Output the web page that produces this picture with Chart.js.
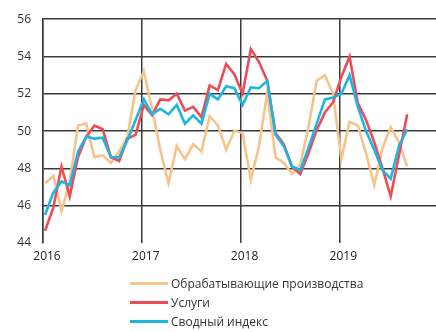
<!DOCTYPE html>
<html lang="ru">
<head>
<meta charset="utf-8">
<title>PMI</title>
<script src="https://cdn.jsdelivr.net/npm/chart.js@4.4.1/dist/chart.umd.min.js"></script>
<style>
    html, body { margin: 0; padding: 0; background: #fff; }
    #wrap { position: relative; width: 436px; height: 332px; }
    #pmiChart { position: absolute; left: 0; top: 0; }
    #legend {
        position: absolute; left: 130px; top: 274px;
        font-family: 'Open Sans', sans-serif; font-size: 12px; color: #333;
    }
    #legend div { height: 19px; line-height: 19px; white-space: nowrap; }
    #legend span {
        display: inline-block; width: 38px; height: 3px; margin-right: 3px;
        vertical-align: middle; position: relative; top: -1px;
    }
</style>
</head>
<body>
<div id="wrap">
    <canvas id="pmiChart" width="436" height="332"></canvas>
    <div id="legend"></div>
</div>
<script>
'use strict'

// monthly values, Jan 2016 - Sep 2019
var years = ['2016', '2017', '2018', '2019']

var manufacturing = [
    47.2, 47.6, 45.7, 47.3, 50.3, 50.4, 48.6, 48.7, 48.3, 48.9, 49.7, 52.2,
    53.2, 51.2, 49.0, 47.2, 49.2, 48.5, 49.3, 48.9, 50.8, 50.3, 49.0, 50.0,
    49.9, 47.4, 49.2, 52.1, 48.6, 48.3, 47.7, 48.2, 50.2, 52.7, 53.0, 52.0,
    48.5, 50.5, 50.3, 48.8, 47.1, 49.1, 50.2, 49.4, 48.1
]
var services = [
    44.65, 45.9, 48.1, 46.5, 48.6, 49.7, 50.3, 50.1, 48.6, 48.4, 49.6, 49.8,
    51.4, 50.85, 51.7, 51.65, 52.0, 51.1, 51.3, 50.75, 52.45, 52.2, 53.6, 53.05,
    52.0, 54.4, 53.7, 52.7, 49.9, 49.3, 48.1, 47.7, 48.8, 50.05, 51.0, 51.55,
    52.9, 54.0, 51.5, 50.6, 49.4, 48.0, 46.5, 48.7, 50.9
]
var composite = [
    45.5, 46.7, 47.3, 47.1, 48.9, 49.7, 49.6, 49.65, 48.6, 48.6, 49.5, 50.6,
    51.7, 50.9, 51.2, 50.9, 51.4, 50.4, 50.85, 50.4, 52.0, 51.7, 52.4, 52.3,
    51.4, 52.35, 52.3, 52.7, 49.8, 49.2, 48.1, 47.9, 49.1, 50.4, 51.7, 51.8,
    52.0, 53.0, 51.3, 50.0, 49.0, 47.9, 47.45, 49.2, 50.1
]

var seriesNames = ['Обрабатывающие производства', 'Услуги', 'Сводный индекс']
var seriesColors = ['#f6c38c', '#ec4c57', '#1db6e2']

// month index -> point; year boundaries sit a quarter month before January
var yearShift = -0.25

function toPoints(values) {
    return values.map(function (v, i) { return { x: i, y: v } })
}

var gridColor = '#3a3a3a'

var pmiData = {
    datasets: [manufacturing, services, composite].map(function (values, k) {
        return {
            label: seriesNames[k],
            data: toPoints(values),
            borderColor: seriesColors[k],
            backgroundColor: seriesColors[k],
            borderWidth: 2.6,
            pointRadius: 0,
            tension: 0,
            order: 3 - k
        }
    })
}

var pmiOptions = {
    responsive: false,
    animation: false,
    layout: { padding: { top: 12, right: 0, bottom: 0, left: 0 } },
    plugins: {
        legend: { display: false },
        tooltip: { enabled: false }
    },
    scales: {
        x: {
            type: 'linear',
            min: yearShift,
            max: yearShift + 47.75,
            afterBuildTicks: function (scale) {
                scale.ticks = years.map(function (y, k) { return { value: yearShift + 12 * k } })
            },
            afterFit: function (scale) { scale.height = 89 },
            ticks: {
                callback: function (v) { return years[Math.round((v - yearShift) / 12)] },
                color: '#222',
                font: { family: 'Open Sans', size: 12 },
                padding: 6,
                labelOffset: 4,
                maxRotation: 0
            },
            grid: { color: gridColor, lineWidth: 1.5, drawTicks: false },
            border: { display: false }
        },
        y: {
            min: 44,
            max: 56,
            afterFit: function (scale) { scale.width = 43 },
            ticks: {
                stepSize: 2,
                color: '#333',
                font: { family: 'Open Sans', size: 12 },
                padding: 12
            },
            grid: {
                color: function (ctx) { return ctx.tick && ctx.tick.value === 44 ? 'rgba(0,0,0,0)' : gridColor },
                lineWidth: 1.5,
                drawTicks: false
            },
            border: { display: true, color: gridColor, width: 1.5 }
        }
    }
}

var pmiChart = new Chart(document.getElementById('pmiChart').getContext('2d'), {
    type: 'line',
    data: pmiData,
    options: pmiOptions
})

// legend: one series per row
var legendBox = document.getElementById('legend')
pmiChart.data.datasets.forEach(function (ds) {
    var row = document.createElement('div')
    var line = document.createElement('span')
    line.style.background = ds.borderColor
    row.appendChild(line)
    row.appendChild(document.createTextNode(ds.label))
    legendBox.appendChild(row)
})
</script>
</body>
</html>
